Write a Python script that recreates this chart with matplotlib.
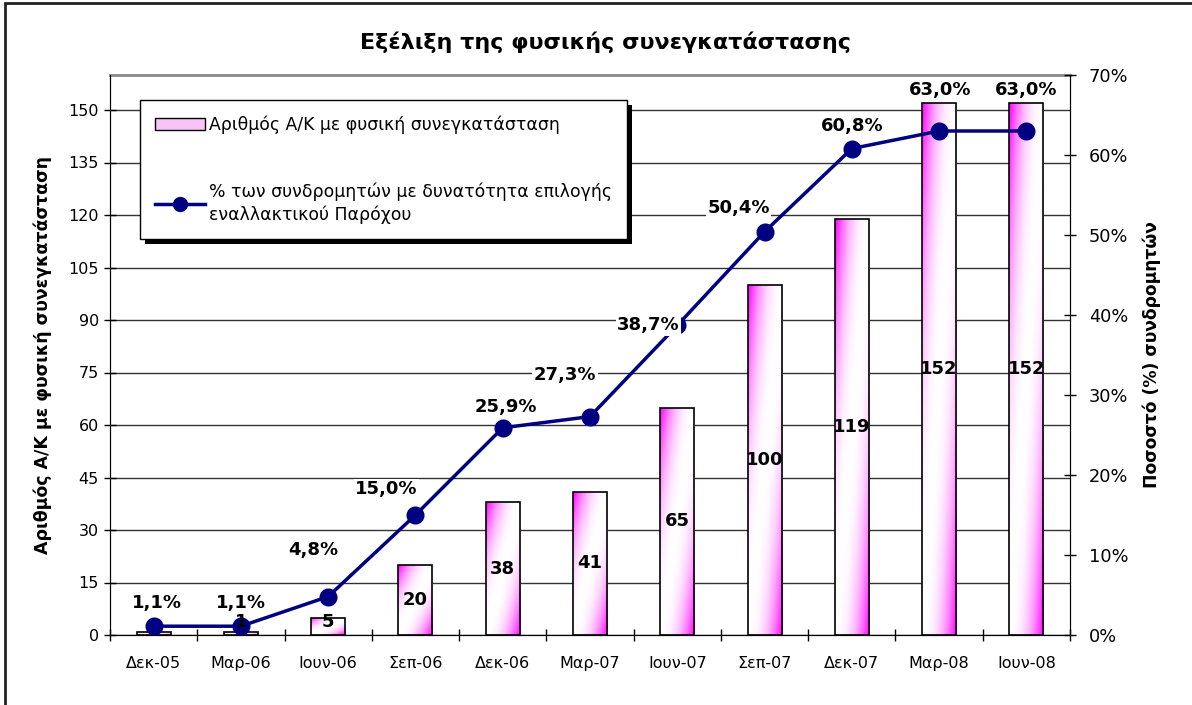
import numpy as np
import matplotlib.pyplot as plt
from matplotlib.patches import Patch, Rectangle
from matplotlib.lines import Line2D

# data
months = ["Δεκ-05", "Μαρ-06", "Ιουν-06", "Σεπ-06", "Δεκ-06", "Μαρ-07",
          "Ιουν-07", "Σεπ-07", "Δεκ-07", "Μαρ-08", "Ιουν-08"]
lines_count = [1, 1, 5, 20, 38, 41, 65, 100, 119, 152, 152]
count_labels = ["", "1", "5", "20", "38", "41", "65", "100", "119", "152", "152"]
pct_subscribers = [1.1, 1.1, 4.8, 15.0, 25.9, 27.3, 38.7, 50.4, 60.8, 63.0, 63.0]
left_ticks = list(range(0, 151, 15))
right_ticks = list(range(0, 71, 10))

# label offsets in pixels (dx, dy), as placed by hand in the original
pct_offsets = [(3, 23), (0, 23), (-15, 47), (-29, 26), (3, 21), (-25, 42),
               (-29, 0), (-26, 24), (0, 23), (1, 41), (0, 41)]

plt.rcParams['font.family'] = ['DejaVu Sans']

fig = plt.figure(figsize=(11.92, 7.05), dpi=100)
fig.patches.append(Rectangle((5 / 1192, -0.1), 1.2, 1 - 3 / 705 + 0.1,
                             transform=fig.transFigure, fill=False,
                             edgecolor='#222222', linewidth=2, zorder=-5))

ax = fig.add_axes([110 / 1192, 70 / 705, 960 / 1192, 560 / 705])
ax2 = ax.twinx()

x = np.arange(len(months))
width = 0.39

bars = ax.bar(x, lines_count, width, facecolor='none', edgecolor='black',
              linewidth=1.2, zorder=3)

# diagonal magenta -> white -> magenta gradient inside each bar
gy, gx = np.mgrid[0:1:80j, 0:1:40j]
t = (gx + gy) / 2
mix = np.abs(2 * t - 1) ** 2.2
mag = np.array([1.0, 0.0, 1.0])
grad = (1 - mix)[..., None] * np.ones(3) + mix[..., None] * mag
for b in bars:
    x0 = b.get_x()
    h = b.get_height()
    im = ax.imshow(grad, extent=(x0, x0 + width, 0, h), origin='upper',
                   aspect='auto', zorder=2, interpolation='bilinear')
    im.set_clip_path(b)

ax.set_xlim(-0.5, len(months) - 0.5)
ax.set_ylim(0, 160)
ax.set_yticks(left_ticks)
ax.set_xticks(x)
ax.set_xticklabels(months, fontsize=11.5)
ax.set_xticks(np.arange(-0.5, len(months), 1), minor=True)
ax.tick_params(axis='x', which='major', length=0, pad=15)
ax.tick_params(axis='x', which='minor', length=9, direction='inout', width=1)
ax.tick_params(axis='y', labelsize=11.5, length=9, direction='inout', width=1)
ax.grid(axis='y', color='#333333', linewidth=1, zorder=0)
ax.set_axisbelow(True)
ax.spines['top'].set_color('#888888')
ax.spines['top'].set_linewidth(2)
ax.set_ylabel("Αριθμός Α/Κ με φυσική συνεγκατάσταση", fontsize=12.5,
              fontweight='bold', labelpad=12)

ax2.plot(x, pct_subscribers, color='#000080', linewidth=2.5, marker='o',
         markersize=12, zorder=5)
ax2.set_ylim(0, 70)
ax2.set_yticks(right_ticks)
ax2.set_yticklabels([f"{v}%" for v in right_ticks])
ax2.tick_params(axis='y', labelsize=12.8, length=9, direction='inout',
                width=1, pad=9)
ax2.set_ylabel("Ποσοστό (%) συνδρομητών", fontsize=12.3, fontweight='bold',
               labelpad=10)
ax2.spines['top'].set_visible(False)

# bar value labels go on the top axes so they sit over the line markers
for xi, v, lab in zip(x, lines_count, count_labels):
    if lab:
        ax2.text(xi, max(v / 2, 3.8), lab, ha='center', va='center',
                 fontsize=13, fontweight='bold', zorder=7,
                 transform=ax.transData)

for xi, p, (dx, dy) in zip(x, pct_subscribers, pct_offsets):
    ax2.annotate(f"{p:.1f}%".replace('.', ','), (xi, p), xytext=(dx, dy),
                 textcoords='offset pixels', ha='center', va='center',
                 fontsize=13, fontweight='bold', zorder=6,
                 bbox=dict(facecolor='white', edgecolor='none', pad=1))

handles = [Patch(facecolor='#f8c4f8', edgecolor='black'),
           Line2D([], [], color='#000080', linewidth=2.5, marker='o',
                  markersize=10)]
labels = ["Αριθμός Α/Κ με φυσική συνεγκατάσταση",
          "% των συνδρομητών με δυνατότητα επιλογής\nεναλλακτικού Παρόχου"]
leg = ax2.legend(handles, labels, loc='upper left',
                 bbox_to_anchor=(30 / 960, 1 - 25 / 560), borderaxespad=0,
                 fontsize=12.4, frameon=True, fancybox=False,
                 facecolor='white', framealpha=1,
                 edgecolor='black', labelspacing=2.8, handlelength=2.9,
                 handletextpad=0.2, borderpad=0.9)
leg.get_frame().set_linewidth(1)
leg.set_zorder(10)
for txt in leg.get_texts():
    txt.set_linespacing(1.3)

# solid black drop shadow behind the legend box
fig.canvas.draw()
bb = leg.get_window_extent().transformed(fig.transFigure.inverted())
shadow = Rectangle((bb.x0 + 5 / 1192, bb.y0 - 5 / 705), bb.width, bb.height,
                   transform=fig.transFigure, facecolor='black',
                   edgecolor='none', zorder=9)
ax2.add_artist(shadow)
shadow.set_transform(fig.transFigure)

fig.text(605 / 1192, 1 - 42 / 705, "Εξέλιξη της φυσικής συνεγκατάστασης",
         ha='center', va='center', fontsize=16, fontweight='bold')

fig.savefig("out.png", dpi=100)
